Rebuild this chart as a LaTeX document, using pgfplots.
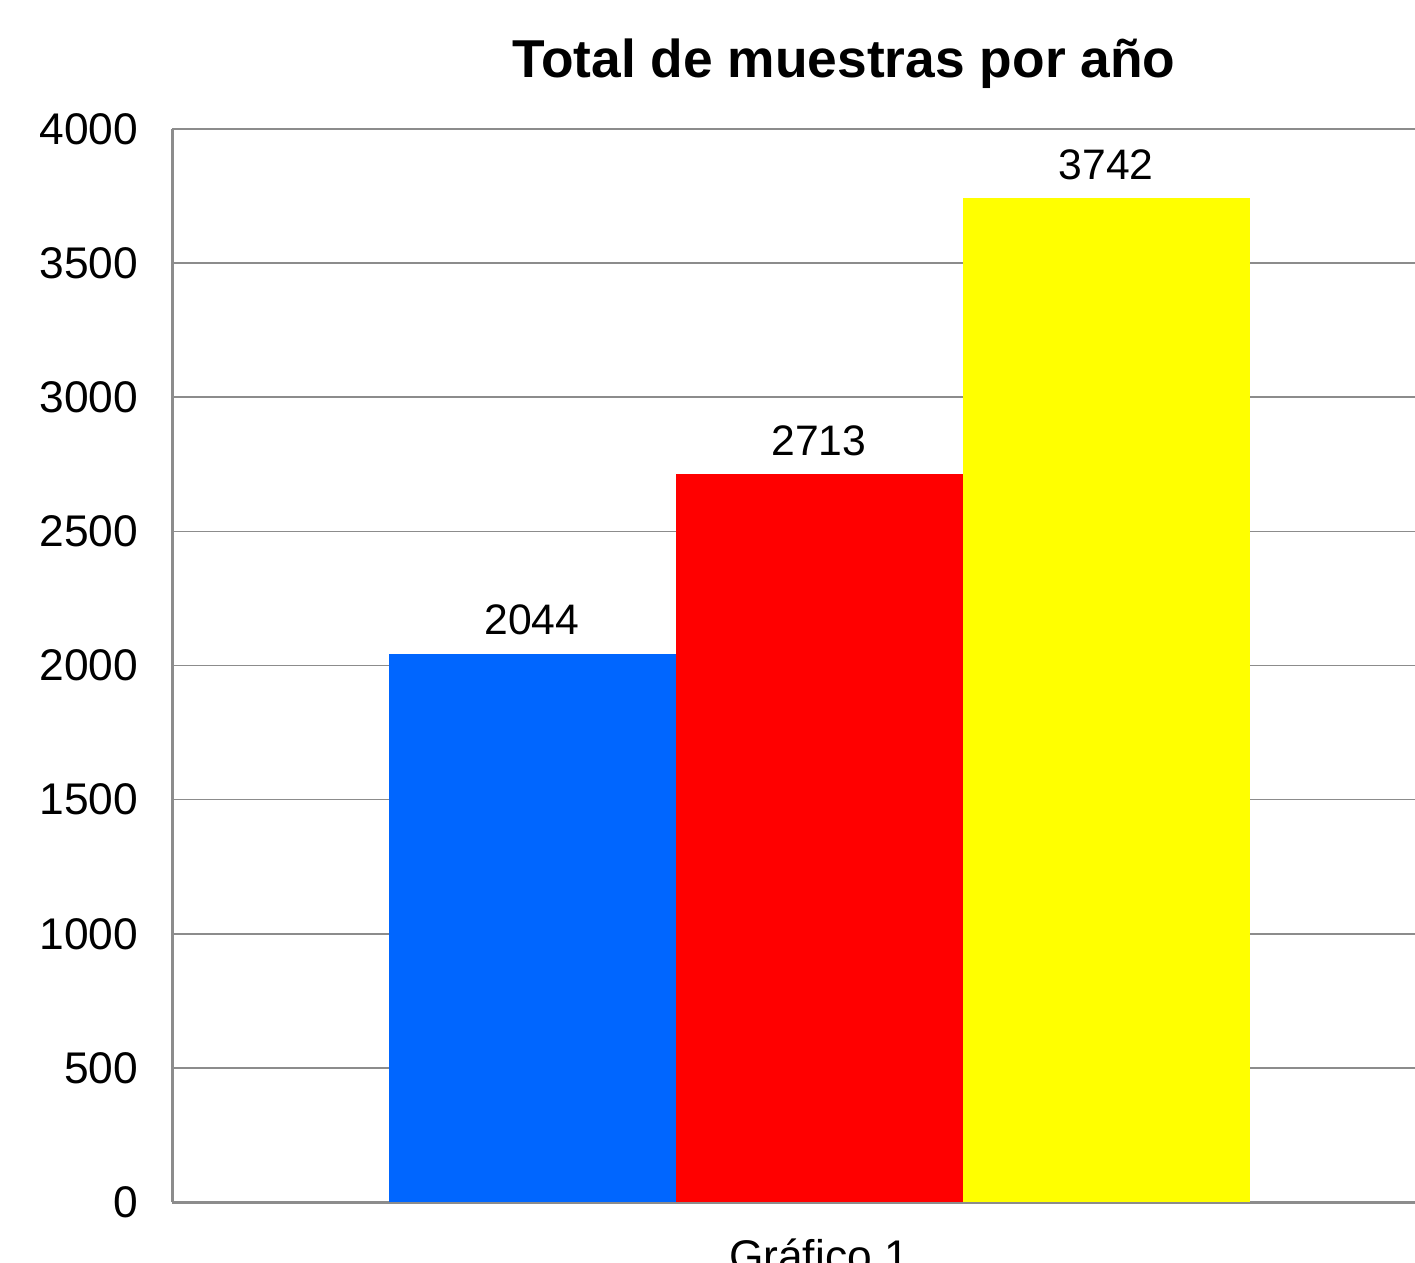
\documentclass[border=0pt]{standalone}
\usepackage{fontspec}
\setmainfont{Liberation Sans}
\usepackage{pgfplots}
\pgfplotsset{compat=1.18}
\definecolor{barblue}{HTML}{0066FF}
\definecolor{barred}{HTML}{FF0000}
\definecolor{baryellow}{HTML}{FFFF00}
\definecolor{gridgray}{HTML}{8C8C8C}
\begin{document}
\begin{tikzpicture}
\useasboundingbox (-51.6pt,-18pt) rectangle (372.9pt,360.6pt);
\clip (-51.6pt,-18pt) rectangle (372.9pt,360.6pt);
\begin{scope}[overlay]
\begin{axis}[
    at={(0,0)}, anchor=south west,
    scale only axis,
    width=388.2pt, height=321.9pt,
    ybar=0pt, bar width=86.1pt,
    xmin=0, xmax=2, ymin=0, ymax=4000,
    ytick={0,500,...,4000},
    xtick={1}, xticklabels={Gráfico 1},
    major tick length=0pt,
    axis x line*=bottom, axis y line*=left,
    axis line style={draw=gridgray, line width=0.9pt, -},
    ymajorgrids, grid style={draw=gridgray, line width=0.5pt},
    /pgf/number format/assume math mode=true,
    scaled y ticks=false,
    yticklabel style={font=\fontsize{13.3}{15}\selectfont, xshift=-6.6pt,
        /pgf/number format/1000 sep={}},
    xticklabel style={font=\fontsize{13.3}{15}\selectfont, yshift=-7.6pt},
    nodes near coords,
    nodes near coords style={font=\fontsize{12.8}{14}\selectfont, black, yshift=2pt,
        /pgf/number format/1000 sep={}},
    every axis plot/.append style={draw=none},
]
\addplot[fill=barblue] coordinates {(1,2044)};
\addplot[fill=barred] coordinates {(1,2713)};
\addplot[fill=baryellow] coordinates {(1,3742)};
\draw[gridgray, line width=0.5pt] (axis cs:0,4000) -- (axis cs:2,4000);
\end{axis}
\node[font=\bfseries\fontsize{16}{18}\selectfont] at (201.6pt,341.6pt) {Total de muestras por año};
\end{scope}
\end{tikzpicture}
\end{document}
